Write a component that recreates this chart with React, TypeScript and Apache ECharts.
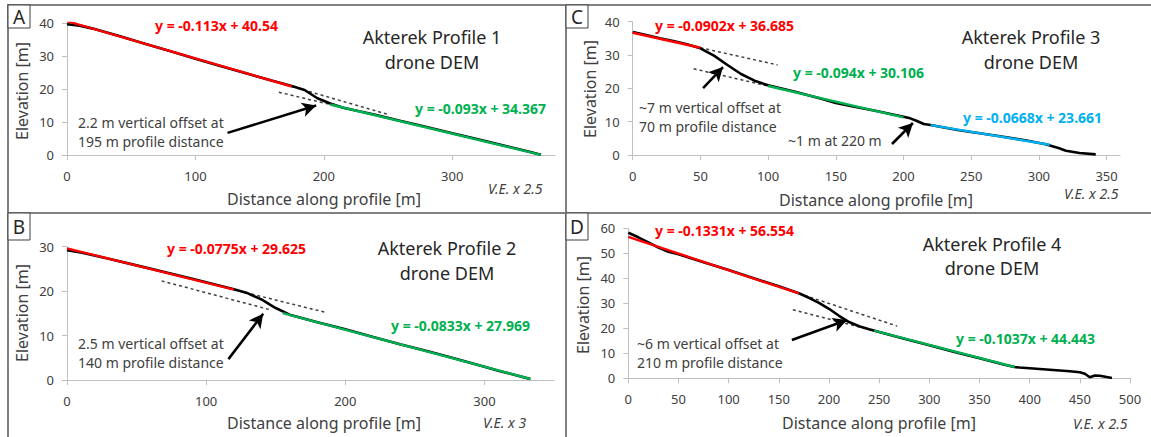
import React, { useEffect, useRef } from 'react';
import * as echarts from 'echarts';

// ---------- DATA ----------
// Panel A: Akterek Profile 1
const profileA_x = [0, 10, 20, 40, 60, 80, 100, 120, 140, 160, 175, 185, 195, 205, 215, 240, 260, 280, 300, 320, 340, 360, 369];
const profileA_y = [39.6, 39.2, 38.3, 36.1, 33.8, 31.5, 29.2, 26.9, 24.7, 22.5, 20.9, 19.7, 17.2, 15.6, 14.3, 12.2, 10.3, 8.5, 6.6, 4.8, 2.9, 1.0, 0.1];
// Panel B: Akterek Profile 2
const profileB_x = [0, 10, 30, 50, 70, 90, 110, 120, 130, 140, 150, 160, 180, 200, 220, 240, 260, 280, 300, 310, 320, 333];
const profileB_y = [29.2, 28.7, 27.3, 25.8, 24.3, 22.8, 21.2, 20.4, 19.5, 18.1, 16.2, 14.7, 13.0, 11.4, 9.7, 8.0, 6.4, 4.7, 3.0, 2.1, 1.3, 0.2];
// Panel C: Akterek Profile 3
const profileC_x = [0, 10, 20, 30, 40, 50, 60, 70, 80, 90, 100, 120, 140, 150, 160, 180, 200, 205, 210, 215, 220, 240, 250, 270, 290, 305, 315, 320, 330, 342];
const profileC_y = [36.9, 36.0, 35.0, 34.2, 33.2, 32.0, 29.8, 27.0, 24.3, 22.3, 20.9, 19.0, 16.8, 15.6, 14.8, 13.2, 11.5, 11.0, 10.2, 9.3, 9.0, 7.5, 6.9, 5.7, 4.4, 3.2, 2.0, 1.3, 0.6, 0.2];
// Panel D: Akterek Profile 4
const profileD_x = [0, 10, 20, 30, 40, 50, 75, 100, 125, 150, 170, 180, 190, 200, 210, 220, 230, 240, 250, 275, 300, 325, 350, 375, 385, 390, 400, 420, 440, 450, 455, 460, 465, 470, 482];
const profileD_y = [58.2, 56.4, 54.4, 52.3, 50.6, 49.6, 46.4, 43.3, 40.0, 36.8, 34.0, 32.2, 30.2, 27.8, 25.0, 22.5, 20.8, 19.6, 18.5, 15.8, 13.2, 10.5, 8.0, 5.4, 4.5, 4.3, 4.0, 3.4, 2.8, 2.4, 1.8, 0.4, 1.1, 1.0, 0.1];

// Trend lines: [slope, intercept, xStart, xEnd]
const fitA_red = [-0.113, 40.54, 0, 175];
const fitA_green = [-0.093, 34.367, 205, 369];
const fitB_red = [-0.0775, 29.625, 0, 120];
const fitB_green = [-0.0833, 27.969, 155, 333];
const fitC_red = [-0.0902, 36.685, 0, 50];
const fitC_green = [-0.094, 30.106, 100, 200];
const fitC_blue = [-0.0668, 23.661, 220, 308];
const fitD_red = [-0.1331, 56.554, 0, 170];
const fitD_green = [-0.1037, 44.443, 245, 385];

// Dashed extensions of trend lines: [slope, intercept, xStart, xEnd]
const dashA = [[-0.113, 40.54, 175, 250], [-0.093, 34.367, 165, 210]];
const dashB = [[-0.0775, 29.625, 120, 185], [-0.0833, 27.969, 68, 145]];
const dashC = [[-0.0902, 36.685, 50, 107], [-0.094, 30.106, 45, 100]];
const dashD = [[-0.1331, 56.554, 170, 268], [-0.1037, 44.443, 164, 245]];

// Arrows: [x tail, y tail, x head, y head]
const arrowsA = [[125, 6.7, 194, 15.0]];
const arrowsB = [[116, 4.7, 141, 14.9]];
const arrowsC = [[52, 20.1, 66.7, 26.4], [191.5, 3.3, 207, 9.6]];
const arrowsD = [[163, 15.3, 218, 23.3]];

// Axes
const xMaxes = [380, 350, 360, 500];
const yMaxes = [40, 30, 40, 60];
const xTicksA = [0, 100, 200, 300];
const xTicksB = [0, 100, 200, 300];
const xTicksC = [0, 50, 100, 150, 200, 250, 300, 350];
const xTicksD = [0, 50, 100, 150, 200, 250, 300, 350, 400, 450, 500];
const yTicksA = [0, 10, 20, 30, 40];
const yTicksB = [0, 10, 20, 30];
const yTicksC = [0, 10, 20, 30, 40];
const yTicksD = [0, 10, 20, 30, 40, 50, 60];

// Texts
const titles = ['Akterek Profile 1', 'Akterek Profile 2', 'Akterek Profile 3', 'Akterek Profile 4'];
const subtitle = 'drone DEM';
const letters = ['A', 'B', 'C', 'D'];
const veTexts = ['V.E. x 2.5', 'V.E. x 3', 'V.E. x 2.5', 'V.E. x 2.5'];
const notesA = ['2.2 m vertical offset at', '195 m profile distance'];
const notesB = ['2.5 m vertical offset at', '140 m profile distance'];
const notesC = ['~7 m vertical offset at', '70 m profile distance'];
const noteC2 = '~1 m at 220 m';
const notesD = ['~6 m vertical offset at', '210 m profile distance'];
const xTitle = 'Distance along profile [m]';
const yTitle = 'Elevation [m]';

// ---------- STYLE / LAYOUT ----------
const FONT = '"Noto Sans", sans-serif';
const TXT = '#404040';
const RED = '#ff0000';
const GREEN = '#00b050';
const BLUE = '#00b0f0';
const AXIS = '#bfbfbf';
const BORDER = '#808080';

const grids = [
  { left: 67, top: 23, width: 488, height: 132 },
  { left: 67, top: 246.7, width: 487, height: 133.3 },
  { left: 632.7, top: 21.7, width: 487.4, height: 133.3 },
  { left: 628.3, top: 228.3, width: 501.7, height: 150 },
];

function zip(xs: number[], ys: number[]) {
  return xs.map((x, i) => [x, ys[i]]);
}
function seg(f: number[]) {
  const [m, b, x0, x1] = f;
  return [[x0, m * x0 + b], [x1, m * x1 + b]];
}
function eqText(f: number[]) {
  return `y = ${f[0]}x + ${f[1]}`;
}

function text(x: number, y: number, t: string, font: string, fill: string, align = 'left', rotation = 0) {
  return {
    type: 'text',
    x,
    y,
    rotation,
    silent: true,
    z: 20,
    style: {
      text: t,
      font,
      fill,
      textAlign: align,
      align,
      textVerticalAlign: 'middle',
      verticalAlign: 'middle',
    },
  };
}
function line(x1: number, y1: number, x2: number, y2: number, w = 2, c = BORDER) {
  return { type: 'line', silent: true, z: 15, shape: { x1, y1, x2, y2 }, style: { stroke: c, lineWidth: w } };
}

function buildOption() {
  const xTicks = [xTicksA, xTicksB, xTicksC, xTicksD];
  const yTicks = [yTicksA, yTicksB, yTicksC, yTicksD];
  const profiles = [zip(profileA_x, profileA_y), zip(profileB_x, profileB_y), zip(profileC_x, profileC_y), zip(profileD_x, profileD_y)];
  const fits: [number[], string][][] = [
    [[fitA_red, RED], [fitA_green, GREEN]],
    [[fitB_red, RED], [fitB_green, GREEN]],
    [[fitC_red, RED], [fitC_green, GREEN], [fitC_blue, BLUE]],
    [[fitD_red, RED], [fitD_green, GREEN]],
  ];
  const dashes = [dashA, dashB, dashC, dashD];
  const arrows = [arrowsA, arrowsB, arrowsC, arrowsD];

  const xAxis = grids.map((_, i) => ({
    type: 'value',
    gridIndex: i,
    min: 0,
    max: xMaxes[i],
    interval: xTicks[i][1] - xTicks[i][0],
    axisLine: { show: true, onZero: false, lineStyle: { color: AXIS, width: 1 } },
    axisTick: { show: true, length: 5, inside: false, lineStyle: { color: AXIS }, customValues: xTicks[i] },
    axisLabel: { show: true, color: TXT, fontSize: 13, fontFamily: FONT, margin: 14, customValues: xTicks[i] },
    splitLine: { show: false },
  }));
  const yAxis = grids.map((_, i) => ({
    type: 'value',
    gridIndex: i,
    min: 0,
    max: yMaxes[i],
    interval: 10,
    axisLine: { show: true, lineStyle: { color: AXIS, width: 1 } },
    axisTick: { show: true, length: 5, inside: false, lineStyle: { color: AXIS }, customValues: yTicks[i] },
    axisLabel: { show: true, color: TXT, fontSize: 13, fontFamily: FONT, margin: 13, customValues: yTicks[i] },
    splitLine: { show: false },
  }));

  const series: any[] = [];
  grids.forEach((_, i) => {
    dashes[i].forEach((d) => {
      series.push({
        type: 'line',
        xAxisIndex: i,
        yAxisIndex: i,
        data: seg(d),
        showSymbol: false,
        silent: true,
        z: 2,
        lineStyle: { color: '#404040', width: 1.5, type: [3, 3] },
      });
    });
    series.push({
      type: 'line',
      xAxisIndex: i,
      yAxisIndex: i,
      data: profiles[i],
      showSymbol: false,
      silent: true,
      z: 3,
      lineStyle: { color: '#000000', width: 2.6 },
      markLine: {
        silent: true,
        symbol: ['none', 'arrow'],
        symbolSize: [11, 14],
        label: { show: false },
        emphasis: { disabled: true },
        lineStyle: { color: '#000000', width: 2.5, type: 'solid' },
        data: arrows[i].map((a) => [{ coord: [a[0], a[1]] }, { coord: [a[2], a[3]] }]),
      },
    });
    fits[i].forEach(([f, c]) => {
      series.push({
        type: 'line',
        xAxisIndex: i,
        yAxisIndex: i,
        data: seg(f),
        showSymbol: false,
        silent: true,
        z: 4,
        lineStyle: { color: c, width: 2.4 },
      });
    });
  });

  const fTitle = `18px ${FONT}`;
  const fEq = `bold 14px ${FONT}`;
  const fNote = `14px ${FONT}`;
  const fAxisT = `16px ${FONT}`;
  const fVE = `italic 14px ${FONT}`;
  const fLetter = `19px ${FONT}`;

  const graphic: any[] = [
    // panel borders
    line(8, 5, 1151, 5),
    line(8, 4, 8, 437),
    line(8, 213, 1151, 213),
    line(566, 4, 566, 437),
    // letter boxes
    ...[[8, 5], [8, 213], [566, 5], [566, 213]].map(([x, y], i) => ({
      type: 'rect', silent: true, z: 16,
      shape: { x, y, width: 22, height: i % 2 === 0 ? 23 : 27 },
      style: { fill: '#ffffff', stroke: '#404040', lineWidth: 1 },
    })),
    text(19, 17, letters[0], fLetter, '#262626', 'center'),
    text(19, 227, letters[1], fLetter, '#262626', 'center'),
    text(577, 17, letters[2], fLetter, '#262626', 'center'),
    text(577, 227, letters[3], fLetter, '#262626', 'center'),
    // titles
    text(432, 37, titles[0], fTitle, '#262626', 'center'),
    text(432, 62, subtitle, fTitle, '#262626', 'center'),
    text(447, 248, titles[1], fTitle, '#262626', 'center'),
    text(447, 273, subtitle, fTitle, '#262626', 'center'),
    text(1031, 37, titles[2], fTitle, '#262626', 'center'),
    text(1031, 62, subtitle, fTitle, '#262626', 'center'),
    text(992, 244, titles[3], fTitle, '#262626', 'center'),
    text(992, 268, subtitle, fTitle, '#262626', 'center'),
    // equations
    text(155, 25, eqText(fitA_red), fEq, RED),
    text(415, 108, eqText(fitA_green), fEq, GREEN),
    text(167, 248, eqText(fitB_red), fEq, RED),
    text(391, 325, eqText(fitB_green), fEq, GREEN),
    text(655, 25, eqText(fitC_red), fEq, RED),
    text(793, 72, eqText(fitC_green), fEq, GREEN),
    text(963, 117, eqText(fitC_blue), fEq, BLUE),
    text(655, 230, eqText(fitD_red), fEq, RED),
    text(956, 338, eqText(fitD_green), fEq, GREEN),
    // notes
    text(78, 122, notesA[0], fNote, TXT),
    text(78, 141, notesA[1], fNote, TXT),
    text(78, 343, notesB[0], fNote, TXT),
    text(78, 362, notesB[1], fNote, TXT),
    text(639, 107, notesC[0], fNote, TXT),
    text(639, 126, notesC[1], fNote, TXT),
    text(788, 140, noteC2, fNote, TXT),
    text(637, 343, notesD[0], fNote, TXT),
    text(637, 362, notesD[1], fNote, TXT),
    // axis titles
    text(324, 199, xTitle, fAxisT, TXT, 'center'),
    text(324, 423, xTitle, fAxisT, TXT, 'center'),
    text(876, 200, xTitle, fAxisT, TXT, 'center'),
    text(879, 423, xTitle, fAxisT, TXT, 'center'),
    text(22, 91, yTitle, fAxisT, TXT, 'center', Math.PI / 2),
    text(22, 313, yTitle, fAxisT, TXT, 'center', Math.PI / 2),
    text(590, 89, yTitle, fAxisT, TXT, 'center', Math.PI / 2),
    text(583, 305, yTitle, fAxisT, TXT, 'center', Math.PI / 2),
    // V.E.
    text(488, 188, veTexts[0], fVE, TXT),
    text(483, 422, veTexts[1], fVE, TXT),
    text(1064, 193, veTexts[2], fVE, TXT),
    text(1073, 423, veTexts[3], fVE, TXT),
  ];

  return {
    animation: false,
    backgroundColor: '#ffffff',
    textStyle: { fontFamily: FONT },
    grid: grids.map((g) => ({ ...g, containLabel: false, outerBoundsMode: 'none' })),
    xAxis,
    yAxis,
    series,
    graphic,
  };
}

export default function App() {
  const ref = useRef<HTMLDivElement>(null);
  useEffect(() => {
    if (!ref.current) return;
    const chart = echarts.init(ref.current, undefined, { renderer: 'svg' });
    chart.setOption(buildOption() as any);
    return () => chart.dispose();
  }, []);
  return (
    <div
      ref={ref}
      style={{ position: 'fixed', left: 0, top: 0, width: 1151, height: 437, background: '#fff' }}
    />
  );
}
